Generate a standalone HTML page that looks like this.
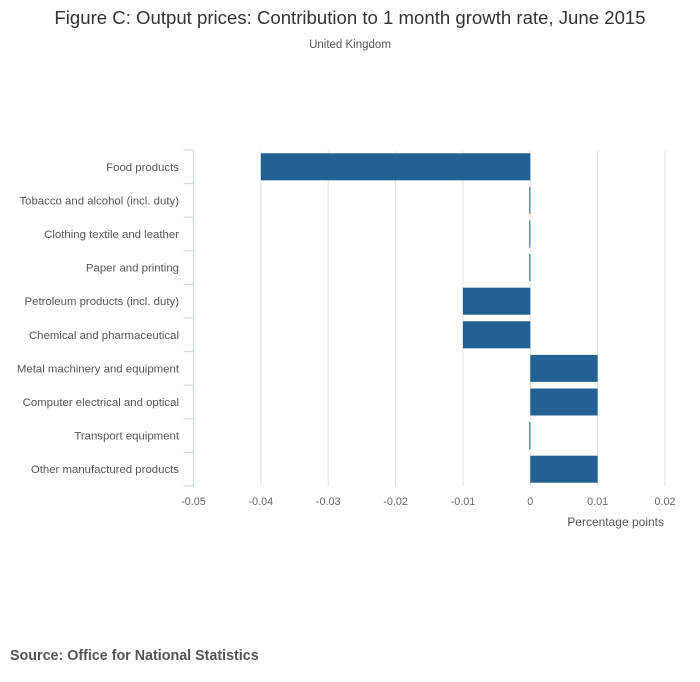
<!DOCTYPE html>
<html><head><meta charset="utf-8"><style>
body{margin:0;background:#fff;font-family:"Liberation Sans",sans-serif;}
#wrap{position:relative;width:700px;height:682px;overflow:hidden}
</style></head><body>
<div id="wrap">
<svg id="chart" width="700" height="682">
<text x="350" y="24" text-anchor="middle" font-size="18.6" fill="#333">Figure C: Output prices: Contribution to 1 month growth rate, June 2015</text>
<text x="350" y="48" text-anchor="middle" font-size="11.5" fill="#555">United Kingdom</text>
<text x="664" y="526" text-anchor="end" font-size="12" fill="#555">Percentage points</text>
<text x="10" y="660" font-size="14.3" font-weight="bold" fill="#555">Source: Office for National Statistics</text>
</svg>
</div>
<script>
const categories=["Food products","Tobacco and alcohol (incl. duty)","Clothing textile and leather","Paper and printing","Petroleum products (incl. duty)","Chemical and pharmaceutical","Metal machinery and equipment","Computer electrical and optical","Transport equipment","Other manufactured products"];
const values=[-0.04,0,0,0,-0.01,-0.01,0.01,0.01,0,0.01];
const xTicks=[-0.05,-0.04,-0.03,-0.02,-0.01,0,0.01,0.02];
const xTickLabels=["-0.05","-0.04","-0.03","-0.02","-0.01","0","0.01","0.02"];
const NS="http://www.w3.org/2000/svg";
const svg=document.getElementById('chart');
const L=193.5,R=665,T=150,B=486,xmin=-0.05,xmax=0.02;
function x(v){return L+(v-xmin)/(xmax-xmin)*(R-L);}
const band=(B-T)/categories.length;
function y(i){return T+i*band;}
function mk(tag,a){const e=document.createElementNS(NS,tag);for(const k in a)e.setAttribute(k,a[k]);svg.appendChild(e);return e;}
xTicks.forEach((t,i)=>{
 if(i>0){const g=mk('line',{x1:x(t),x2:x(t),y1:T,y2:B,stroke:'#e0e0e0','stroke-width':1});
 
 }
 const tx=mk('text',{x:x(t),y:B+19,'text-anchor':'middle','font-size':10.8,fill:'#666'});
 tx.textContent=xTickLabels[i];
 
 
});
const ax=mk('line',{x1:L,x2:L,y1:T,y2:B,stroke:'#ccd6eb','stroke-width':1});


for(let i=0;i<=categories.length;i++){
 const tk=mk('line',{x1:L-10,x2:L,y1:y(i),y2:y(i),stroke:'#ccd6eb','stroke-width':1});
 
 
}
categories.forEach((c,i)=>{
 const t=mk('text',{x:179,y:y(i)+band/2+4,'text-anchor':'end','font-size':11.4,fill:'#555'});
 t.textContent=c;
 
 
 const v=values[i];
 let x0=Math.min(x(0),x(v)),w=Math.abs(x(v)-x(0));
 if(w<1){w=1;x0=x(0)-1;}
 const r=mk('rect',{x:x0,y:y(i)+3.3,width:w,height:band-6.6,fill:'#236195'});
 
 
});
</script>
</body></html>
